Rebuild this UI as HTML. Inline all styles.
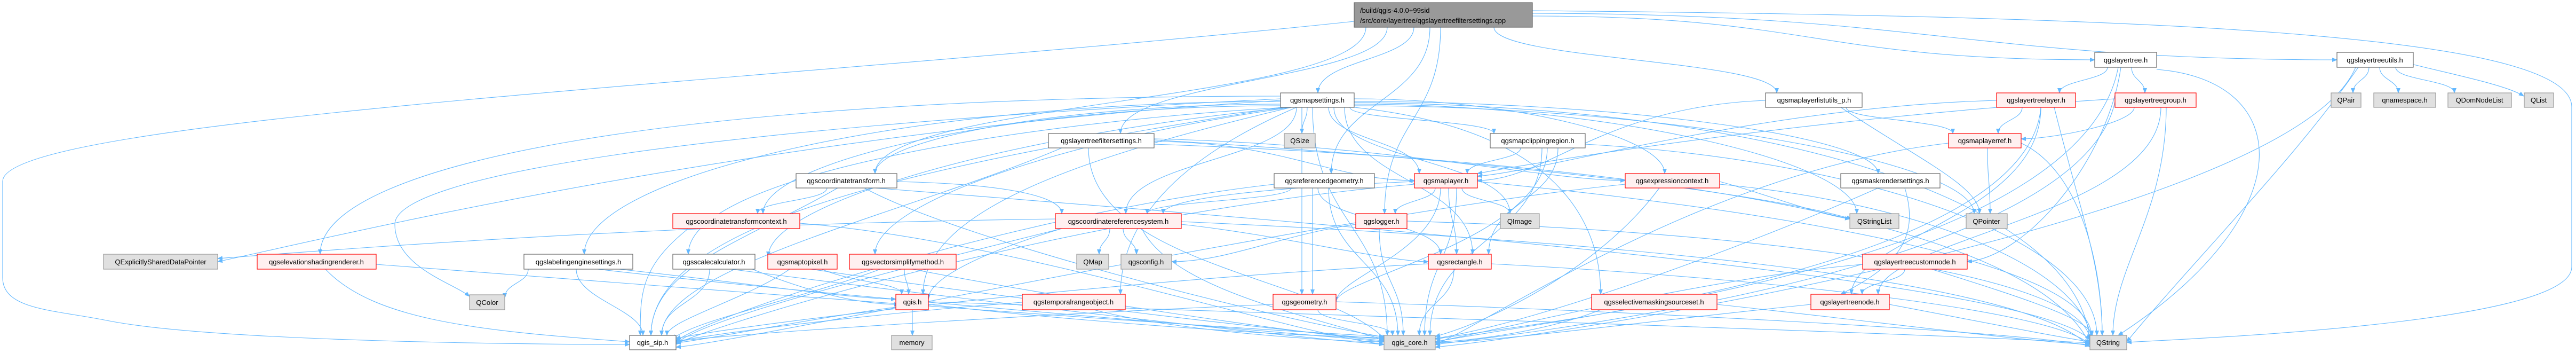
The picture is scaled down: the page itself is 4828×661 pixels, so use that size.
<!DOCTYPE html>
<html><head><meta charset="utf-8"><style>
html,body{margin:0;padding:0;background:#fff;}
svg{display:block;}
text{font-family:"Liberation Sans",sans-serif;font-size:13px;fill:#000;}
.e{fill:none;stroke:#63b8ff;stroke-width:1.1;marker-end:url(#a);}
.w{fill:#fff;stroke:#666;stroke-width:1.2;}
.r{fill:#fff0f0;stroke:#ff0000;stroke-width:1.2;}
.g{fill:#e0e0e0;stroke:#999;stroke-width:1.2;}
.root{fill:#999;stroke:#666;stroke-width:1.2;}
</style></head><body>
<svg width="4828" height="661" viewBox="0 0 4828 661" xmlns="http://www.w3.org/2000/svg">
<defs><marker id="a" markerWidth="10" markerHeight="8" refX="9" refY="4" orient="auto" markerUnits="userSpaceOnUse"><path d="M0 0L10 4L0 8z" fill="#63b8ff"/></marker></defs>
<g>
<path class="e" d="M2650 51C2650 112 2470 112 2470 174"/>
<path class="e" d="M2600 51C2600 150 2100 150 2100 250"/>
<path class="e" d="M2680 51C2680 190 2495 190 2495 325"/>
<path class="e" d="M2700 51C2700 225 2595 225 2595 400"/>
<path class="e" d="M2800 51C2800 112 3330 112 3330 174"/>
<path class="e" d="M2872 30C3400 30 3400 112 3926 112"/>
<path class="e" d="M2872 25C3600 25 3700 112 4380 112"/>
<path class="e" d="M2872 20C4000 30 4820 60 4820 200L4820 500C4820 600 4200 630 3986 641"/>
<path class="e" d="M2560 51C2560 190 1640 190 1640 325"/>
<path class="e" d="M2538 40C1500 150 0 220 5 340L5 520C5 580 100 580 200 600C400 640 1000 645 1180 645"/>
<path class="e" d="M2450 201C2450 225 2440 225 2440 250"/>
<path class="e" d="M2530 201C2530 225 2800 225 2800 250"/>
<path class="e" d="M2490 201C2490 263 2660 263 2660 325"/>
<path class="e" d="M2430 201C2430 300 2110 300 2110 400"/>
<path class="e" d="M2440 201C2440 376 2440 376 2440 551"/>
<path class="e" d="M2520 201C2520 338 2760 338 2760 476"/>
<path class="e" d="M2500 201C2500 300 2830 300 2830 400"/>
<path class="e" d="M2538 185C2830 185 3120 255 3120 325"/>
<path class="e" d="M2538 190C3030 190 3520 255 3520 325"/>
<path class="e" d="M2538 195C3000 195 3480 300 3480 400"/>
<path class="e" d="M2538 198C3100 198 3700 300 3700 400"/>
<path class="e" d="M2400 195C2000 195 1640 260 1640 325"/>
<path class="e" d="M2400 198C1900 198 1430 300 1430 400"/>
<path class="e" d="M2400 190C1700 190 1095 330 1095 476"/>
<path class="e" d="M2410 201C1900 230 1290 330 1290 476"/>
<path class="e" d="M2420 201C1900 250 1440 380 1440 480"/>
<path class="e" d="M2420 201C2000 260 1640 380 1640 476"/>
<path class="e" d="M2400 180C1300 180 600 300 600 476"/>
<path class="e" d="M2400 185C1300 240 740 330 740 420C740 500 850 530 880 555"/>
<path class="e" d="M2400 188C1400 250 600 450 408 490"/>
<path class="e" d="M2460 201C2460 420 2600 420 2600 628"/>
<path class="e" d="M2400 201C1800 300 1220 400 1220 628"/>
<path class="e" d="M2420 201C2000 300 1730 400 1730 551"/>
<path class="e" d="M2538 201C2900 240 3000 400 3000 551"/>
<path class="e" d="M2430 201C2200 300 2100 420 2100 551"/>
<path class="e" d="M2538 192C3400 200 3900 400 3917 640"/>
<path class="e" d="M2163 265C2400 265 2500 338 2651 338"/>
<path class="e" d="M2040 277C2040 500 2500 520 2600 640"/>
<path class="e" d="M1990 277C1700 400 1240 500 1240 628"/>
<path class="e" d="M2163 270C3000 300 3800 400 3917 645"/>
<path class="e" d="M2163 260C2600 270 2900 338 3046 338"/>
<path class="e" d="M2163 262C2800 300 3300 360 3470 410"/>
<path class="e" d="M2850 277C2850 300 2750 300 2750 325"/>
<path class="e" d="M2890 277C2890 450 2680 450 2680 628"/>
<path class="e" d="M2900 277C2900 450 2504 520 2504 565"/>
<path class="e" d="M2920 277C2920 376 2790 376 2790 476"/>
<path class="e" d="M2971 270C3500 300 3930 450 3930 628"/>
<path class="e" d="M2420 352C2420 376 2150 376 2150 400"/>
<path class="e" d="M2470 352C2470 414 2700 414 2700 476"/>
<path class="e" d="M2460 352C2460 450 2460 450 2460 551"/>
<path class="e" d="M2490 352C2490 490 2620 490 2620 628"/>
<path class="e" d="M2388 345C1900 400 1300 600 1267 640"/>
<path class="e" d="M2690 352C2690 376 2615 376 2615 400"/>
<path class="e" d="M2740 352C2740 376 2830 376 2830 400"/>
<path class="e" d="M2715 352C2715 414 2730 414 2730 476"/>
<path class="e" d="M2651 340C2400 350 2180 370 2180 400"/>
<path class="e" d="M2730 352C2730 490 2670 490 2670 628"/>
<path class="e" d="M2700 352C2700 470 2504 520 2504 565"/>
<path class="e" d="M2769 340C3400 400 3920 500 3920 630"/>
<path class="e" d="M2651 345C2000 400 1300 620 1267 645"/>
<path class="e" d="M2541 420C2400 440 2300 490 2196 490"/>
<path class="e" d="M2080 428C2080 452 2060 452 2060 476"/>
<path class="e" d="M2105 428C2105 452 2130 452 2130 476"/>
<path class="e" d="M2214 420C2400 440 2600 490 2677 490"/>
<path class="e" d="M2140 428C2200 550 2500 600 2600 640"/>
<path class="e" d="M1990 428C1700 500 1300 600 1267 645"/>
<path class="e" d="M1978 410C1200 420 600 470 408 484"/>
<path class="e" d="M2214 415C3000 450 3800 520 3917 650"/>
<path class="e" d="M1990 428C1850 470 1740 520 1740 560"/>
<path class="e" d="M2585 428C2585 530 2630 530 2630 628"/>
<path class="e" d="M2637 414C3200 430 3900 500 3917 635"/>
<path class="e" d="M2725 504C2725 566 2660 566 2660 628"/>
<path class="e" d="M2677 494C2000 530 1300 620 1267 635"/>
<path class="e" d="M2795 494C3300 520 3850 580 3917 645"/>
<path class="e" d="M2470 580C2470 604 2610 604 2610 628"/>
<path class="e" d="M2386 570C1900 590 1300 630 1267 640"/>
<path class="e" d="M2504 565C3000 580 3800 620 3917 648"/>
<path class="e" d="M2050 580C2200 620 2500 640 2594 640"/>
<path class="e" d="M1916 566C1600 590 1300 630 1267 640"/>
<path class="e" d="M1550 352C1550 376 1420 376 1420 400"/>
<path class="e" d="M1681 340C1900 345 1990 370 1990 400"/>
<path class="e" d="M1570 352C1400 450 1220 500 1220 628"/>
<path class="e" d="M1620 352C1800 450 2400 600 2600 632"/>
<path class="e" d="M1640 352C2500 420 3800 520 3917 636"/>
<path class="e" d="M1290 428C1200 500 1200 550 1200 628"/>
<path class="e" d="M1499 418C1900 450 2400 620 2594 645"/>
<path class="e" d="M1080 504C1080 560 1205 580 1205 628"/>
<path class="e" d="M990 504C990 530 946 530 946 558"/>
<path class="e" d="M1160 504C1400 530 1600 560 1679 560"/>
<path class="e" d="M1120 504C1600 560 2400 620 2594 640"/>
<path class="e" d="M1330 504C1330 566 1240 566 1240 628"/>
<path class="e" d="M1410 504C1500 540 1600 570 1685 570"/>
<path class="e" d="M1370 504C1800 560 2400 630 2594 645"/>
<path class="e" d="M1480 504C1400 560 1250 600 1250 628"/>
<path class="e" d="M1540 504C1600 530 1690 530 1690 551"/>
<path class="e" d="M1520 504C1900 560 2400 620 2594 635"/>
<path class="e" d="M1695 504C1695 528 1703 528 1703 551"/>
<path class="e" d="M1650 504C1500 560 1300 600 1260 635"/>
<path class="e" d="M1710 504C2000 560 2400 620 2594 638"/>
<path class="e" d="M1710 580C1710 604 1710 604 1710 628"/>
<path class="e" d="M1679 575C1500 600 1300 640 1267 642"/>
<path class="e" d="M1740 570C2000 600 2400 630 2594 632"/>
<path class="e" d="M1740 565C2500 590 3500 620 3917 642"/>
<path class="e" d="M610 504C700 600 900 620 1180 640"/>
<path class="e" d="M705 495C1300 540 2200 610 2594 630"/>
<path class="e" d="M3460 201C3460 225 3660 225 3660 250"/>
<path class="e" d="M3450 201C3600 300 3710 350 3710 400"/>
<path class="e" d="M3309 188C3000 200 2900 338 2769 338"/>
<path class="e" d="M3790 201C3790 225 3745 225 3745 250"/>
<path class="e" d="M3742 188C3300 200 2900 320 2769 330"/>
<path class="e" d="M3825 201C3825 400 3470 450 3470 551"/>
<path class="e" d="M3850 201C3900 400 3940 500 3940 628"/>
<path class="e" d="M3825 201C3800 500 2900 600 2690 640"/>
<path class="e" d="M4000 201C4000 230 3850 260 3788 260"/>
<path class="e" d="M4050 201C4050 400 3520 450 3520 551"/>
<path class="e" d="M4060 201C4060 400 3960 500 3960 628"/>
<path class="e" d="M3964 190C3900 500 2900 620 2690 645"/>
<path class="e" d="M3964 185C3400 220 2900 300 2769 325"/>
<path class="e" d="M3950 126C3950 150 3860 150 3860 174"/>
<path class="e" d="M3995 126C3995 150 4020 150 4020 174"/>
<path class="e" d="M3975 126C3950 300 3800 480 3687 490"/>
<path class="e" d="M4042 130C4300 150 4320 400 3970 628"/>
<path class="e" d="M3970 126C3900 500 2900 600 2690 635"/>
<path class="e" d="M4440 126C4440 150 4410 150 4410 174"/>
<path class="e" d="M4460 126C4460 150 4495 150 4495 174"/>
<path class="e" d="M4490 126C4490 150 4600 150 4600 174"/>
<path class="e" d="M4520 120C4600 140 4700 160 4730 180"/>
<path class="e" d="M4420 126C4300 300 4100 500 3986 640"/>
<path class="e" d="M4415 126C4300 400 3000 620 2690 650"/>
<path class="e" d="M3725 277C3725 340 3730 340 3730 400"/>
<path class="e" d="M3788 268C3900 320 3940 500 3940 628"/>
<path class="e" d="M3652 268C3200 320 2800 600 2690 645"/>
<path class="e" d="M3223 340C3300 360 3400 400 3467 410"/>
<path class="e" d="M3110 352C3000 500 2800 600 2690 630"/>
<path class="e" d="M3046 345C2500 400 1400 640 1267 650"/>
<path class="e" d="M3223 345C3600 380 3900 500 3920 635"/>
<path class="e" d="M3570 352C3600 450 3550 500 3450 551"/>
<path class="e" d="M3520 352C3300 450 2900 600 2690 634"/>
<path class="e" d="M3570 504C3570 528 3490 528 3490 551"/>
<path class="e" d="M3620 504C3800 560 3920 600 3920 628"/>
<path class="e" d="M3491 495C3200 520 2800 620 2690 640"/>
<path class="e" d="M3541 570C3700 600 3850 630 3917 640"/>
<path class="e" d="M3394 570C3100 600 2800 640 2690 642"/>
<path class="e" d="M3000 580C2900 620 2750 640 2690 640"/>
<path class="e" d="M3218 570C3500 600 3800 640 3917 645"/>
</g>
<g>
<rect class="root" x="2538" y="5" width="334" height="46"/>
<text x="2549" y="24">/build/qgis-4.0.0+99sid</text>
<text x="2549" y="43">/src/core/layertree/qgslayertreefiltersettings.cpp</text>
</g>
<g text-anchor="middle">
<rect class="w" x="2400" y="174" width="138" height="27"/><text x="2469" y="192">qgsmapsettings.h</text>
<rect class="w" x="1965" y="250" width="198" height="27"/><text x="2064" y="268">qgslayertreefiltersettings.h</text>
<rect class="g" x="2407" y="250" width="58" height="27"/><text x="2436" y="268">QSize</text>
<rect class="w" x="2793" y="250" width="178" height="27"/><text x="2882" y="268">qgsmapclippingregion.h</text>
<rect class="w" x="2388" y="325" width="188" height="27"/><text x="2482" y="343">qgsreferencedgeometry.h</text>
<rect class="r" x="2651" y="325" width="118" height="27"/><text x="2710" y="343">qgsmaplayer.h</text>
<rect class="r" x="1978" y="400" width="236" height="28"/><text x="2096" y="419">qgscoordinatereferencesystem.h</text>
<rect class="r" x="2541" y="400" width="96" height="28"/><text x="2589" y="419">qgslogger.h</text>
<rect class="g" x="2812" y="400" width="73" height="28"/><text x="2848" y="419">QImage</text>
<rect class="g" x="2018" y="476" width="60" height="28"/><text x="2048" y="495">QMap</text>
<rect class="g" x="2101" y="476" width="95" height="28"/><text x="2148" y="495">qgsconfig.h</text>
<rect class="r" x="2677" y="476" width="118" height="28"/><text x="2736" y="495">qgsrectangle.h</text>
<rect class="r" x="1916" y="551" width="193" height="29"/><text x="2012" y="570">qgstemporalrangeobject.h</text>
<rect class="r" x="2386" y="551" width="118" height="29"/><text x="2445" y="570">qgsgeometry.h</text>
<rect class="g" x="2594" y="628" width="96" height="27"/><text x="2642" y="646">qgis_core.h</text>
<rect class="r" x="2983" y="551" width="235" height="29"/><text x="3100" y="570">qgsselectivemaskingsourceset.h</text>
<rect class="w" x="1492" y="325" width="189" height="27"/><text x="1586" y="343">qgscoordinatetransform.h</text>
<rect class="r" x="1261" y="400" width="238" height="28"/><text x="1380" y="419">qgscoordinatetransformcontext.h</text>
<rect class="w" x="982" y="476" width="204" height="28"/><text x="1084" y="495">qgslabelingenginesettings.h</text>
<rect class="w" x="1261" y="476" width="154" height="28"/><text x="1338" y="495">qgsscalecalculator.h</text>
<rect class="r" x="1439" y="476" width="130" height="28"/><text x="1504" y="495">qgsmaptopixel.h</text>
<rect class="r" x="1592" y="476" width="200" height="28"/><text x="1692" y="495">qgsvectorsimplifymethod.h</text>
<rect class="r" x="1679" y="551" width="61" height="29"/><text x="1710" y="570">qgis.h</text>
<rect class="g" x="1671" y="628" width="76" height="27"/><text x="1709" y="646">memory</text>
<rect class="w" x="1180" y="628" width="87" height="27"/><text x="1223" y="646">qgis_sip.h</text>
<rect class="g" x="194" y="476" width="214" height="28"/><text x="301" y="495">QExplicitlySharedDataPointer</text>
<rect class="r" x="482" y="476" width="223" height="28"/><text x="593" y="495">qgselevationshadingrenderer.h</text>
<rect class="g" x="880" y="552" width="66" height="28"/><text x="913" y="571">QColor</text>
<rect class="w" x="3926" y="98" width="116" height="28"/><text x="3984" y="117">qgslayertree.h</text>
<rect class="w" x="3309" y="174" width="181" height="27"/><text x="3400" y="192">qgsmaplayerlistutils_p.h</text>
<rect class="r" x="3742" y="174" width="148" height="27"/><text x="3816" y="192">qgslayertreelayer.h</text>
<rect class="r" x="3964" y="174" width="152" height="27"/><text x="4040" y="192">qgslayertreegroup.h</text>
<rect class="r" x="3652" y="250" width="136" height="27"/><text x="3720" y="268">qgsmaplayerref.h</text>
<rect class="r" x="3046" y="325" width="177" height="27"/><text x="3134" y="343">qgsexpressioncontext.h</text>
<rect class="w" x="3450" y="325" width="186" height="27"/><text x="3543" y="343">qgsmaskrendersettings.h</text>
<rect class="g" x="3467" y="400" width="92" height="28"/><text x="3513" y="419">QStringList</text>
<rect class="g" x="3685" y="400" width="77" height="28"/><text x="3723" y="419">QPointer</text>
<rect class="r" x="3491" y="476" width="196" height="28"/><text x="3589" y="495">qgslayertreecustomnode.h</text>
<rect class="r" x="3394" y="551" width="147" height="29"/><text x="3467" y="570">qgslayertreenode.h</text>
<rect class="g" x="3917" y="628" width="69" height="27"/><text x="3951" y="646">QString</text>
<rect class="w" x="4380" y="98" width="143" height="28"/><text x="4451" y="117">qgslayertreeutils.h</text>
<rect class="g" x="4369" y="174" width="56" height="27"/><text x="4397" y="192">QPair</text>
<rect class="g" x="4449" y="174" width="116" height="27"/><text x="4507" y="192">qnamespace.h</text>
<rect class="g" x="4588" y="174" width="119" height="27"/><text x="4647" y="192">QDomNodeList</text>
<rect class="g" x="4731" y="174" width="55" height="27"/><text x="4758" y="192">QList</text>
</g>
</svg>
</body></html>
